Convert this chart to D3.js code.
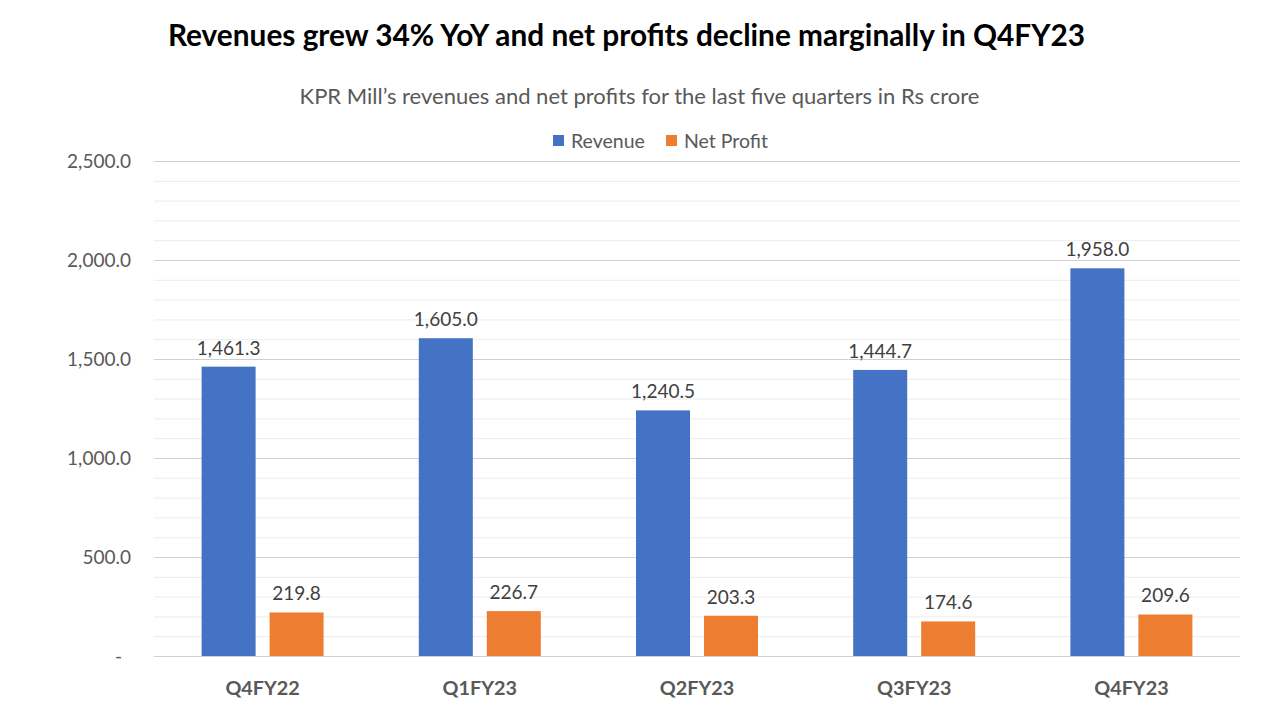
<!DOCTYPE html>
<html><head><meta charset="utf-8">
<script src="https://cdn.jsdelivr.net/npm/d3@7"></script>
<style>body{margin:0;background:#fff;} svg{display:block;font-family:Lato,"Open Sans",sans-serif;}</style>
</head><body>
<svg id="c" width="1280" height="720"></svg>
<script>
const categories = ["Q4FY22","Q1FY23","Q2FY23","Q3FY23","Q4FY23"];
const revenue = [1461.3,1605.0,1240.5,1444.7,1958.0];
const netProfit = [219.8,226.7,203.3,174.6,209.6];
const seriesNames = ["Revenue","Net Profit"];
const yTicks = [0,500,1000,1500,2000,2500];
const colors = ["#4472C4","#ED7D31"];

(function(){
const svg = d3.select("#c");
const pl=154,pr=1240,pt=161,pb=656;
const x = d3.scaleBand().domain(categories).range([pl,pr]);
const y = d3.scaleLinear().domain([0,2500]).range([pb,pt]);
const barW = 54, gap = 14;

svg.append("g").selectAll("line").data(d3.range(100,2500,100).filter(v=>v%500!==0)).join("line")
  .attr("x1",pl).attr("x2",pr).attr("y1",d=>y(d)+0.5).attr("y2",d=>y(d)+0.5)
  .attr("stroke","#ececec").attr("stroke-width",1);
svg.append("g").selectAll("line").data(yTicks).join("line")
  .attr("x1",pl).attr("x2",pr).attr("y1",d=>y(d)+0.5).attr("y2",d=>y(d)+0.5)
  .attr("stroke","#d0d0d0").attr("stroke-width",1);

const fmt = d3.format(",.1f");
svg.append("g").selectAll("text").data(yTicks).join("text")
  .attr("x",d=>d===0?122:131).attr("y",d=>y(d)).attr("dy","0.35em")
  .attr("text-anchor","end").attr("fill","#595959").attr("font-size",19)
  .text(d=>d===0?"-":fmt(d));

const data = categories.map((c,i)=>({c,vals:[revenue[i],netProfit[i]]}));
const g = svg.append("g");
data.forEach(d=>{
  const cx = x(d.c)+x.bandwidth()/2;
  d.vals.forEach((v,j)=>{
    const bx = j===0 ? cx-gap/2-barW : cx+gap/2;
    g.append("rect").attr("x",bx).attr("y",y(v)).attr("width",barW).attr("height",y(0)-y(v)).attr("fill",colors[j]);
    g.append("text").attr("x",bx+barW/2).attr("y",y(v)-12).attr("text-anchor","middle")
      .attr("fill","#404040").attr("font-size",19).text(fmt(v));
  });
});

svg.append("g").selectAll("text").data(categories).join("text")
  .attr("x",d=>x(d)+x.bandwidth()/2).attr("y",695).attr("text-anchor","middle")
  .attr("fill","#595959").attr("font-size",19.8).attr("font-weight","bold").text(d=>d);

svg.append("text").attr("x",626.5).attr("y",46).attr("text-anchor","middle")
  .attr("font-size",29.8).attr("font-weight","bold").attr("fill","#000")
  .text("Revenues grew 34% YoY and net profits decline marginally in Q4FY23");
svg.append("text").attr("x",639.5).attr("y",104).attr("text-anchor","middle")
  .attr("font-size",22).attr("fill","#595959")
  .text("KPR Mill\u2019s revenues and net profits for the last five quarters in Rs crore");

const leg = svg.append("g");
const legItems = [{n:"Revenue",x:553},{n:"Net Profit",x:666}];
legItems.forEach((l,i)=>{
  leg.append("rect").attr("x",l.x).attr("y",135).attr("width",11).attr("height",11).attr("fill",colors[i]);
  leg.append("text").attr("x",l.x+18).attr("y",148).attr("font-size",19.5).attr("fill","#595959").text(l.n);
});
})();
</script>
</body></html>
